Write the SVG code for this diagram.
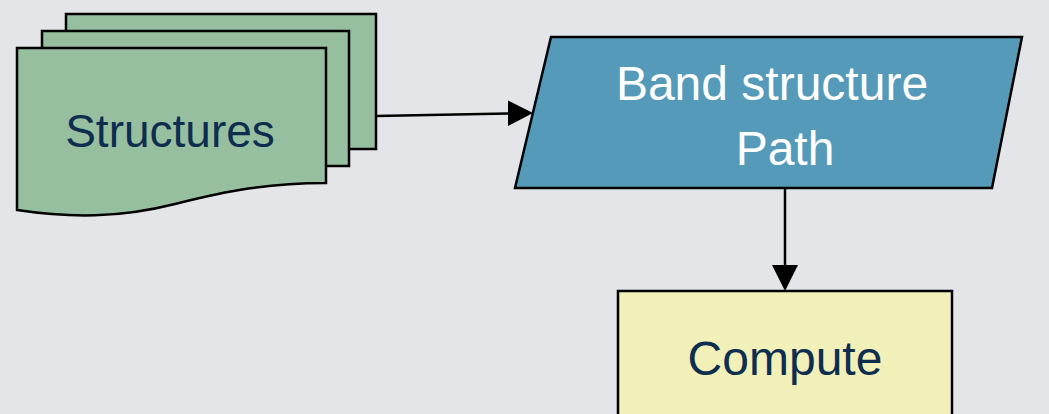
<svg xmlns="http://www.w3.org/2000/svg" width="1049" height="414" viewBox="0 0 1049 414">
  <style>
    .shape { stroke: #000; stroke-width: 2.5; stroke-linejoin: miter; }
    .sheet { fill: #95bf9f; }
    .label { font-family: "Liberation Sans", Arial, sans-serif; font-size: 48px; text-anchor: middle; }
    .dark { fill: #0f2d4f; }
    .light { fill: #ffffff; }
    .edge { stroke: #000; stroke-width: 2.5; fill: none; }
  </style>

  <rect width="1049" height="414" fill="#e4e5e9"/>

  <!-- Stacked document sheets -->
  <g id="structures">
    <rect class="shape sheet" x="66" y="14" width="310" height="135"/>
    <rect class="shape sheet" x="42" y="31" width="307" height="135"/>
    <path class="shape sheet" d="M17,48 H326 V183 C 270,183 230,190 175,204 C 120,218 70,218 17,210 Z"/>
    <text class="label dark" x="170" y="147" style="font-size:46px">Structures</text>
  </g>

  <!-- Input parallelogram -->
  <g id="band-structure-path">
    <polygon class="shape" fill="#559bb9" points="551,37 1022,37 992,188 515,188"/>
    <text class="label light" x="772" y="100">Band structure</text>
    <text class="label light" x="785" y="165">Path</text>
  </g>

  <!-- Process box -->
  <g id="compute">
    <rect class="shape" fill="#f0f0b8" x="618" y="291" width="334" height="140"/>
    <text class="label dark" x="785" y="375">Compute</text>
  </g>

  <!-- Connectors -->
  <g id="connectors">
    <line class="edge" x1="376" y1="116" x2="508" y2="113.5"/>
    <path d="M508,100.5 L533,113 L508,126 Z" fill="#000"/>
    <line class="edge" x1="785" y1="188" x2="785" y2="266"/>
    <path d="M772,265 L798,265 L785,291 Z" fill="#000"/>
  </g>
</svg>
